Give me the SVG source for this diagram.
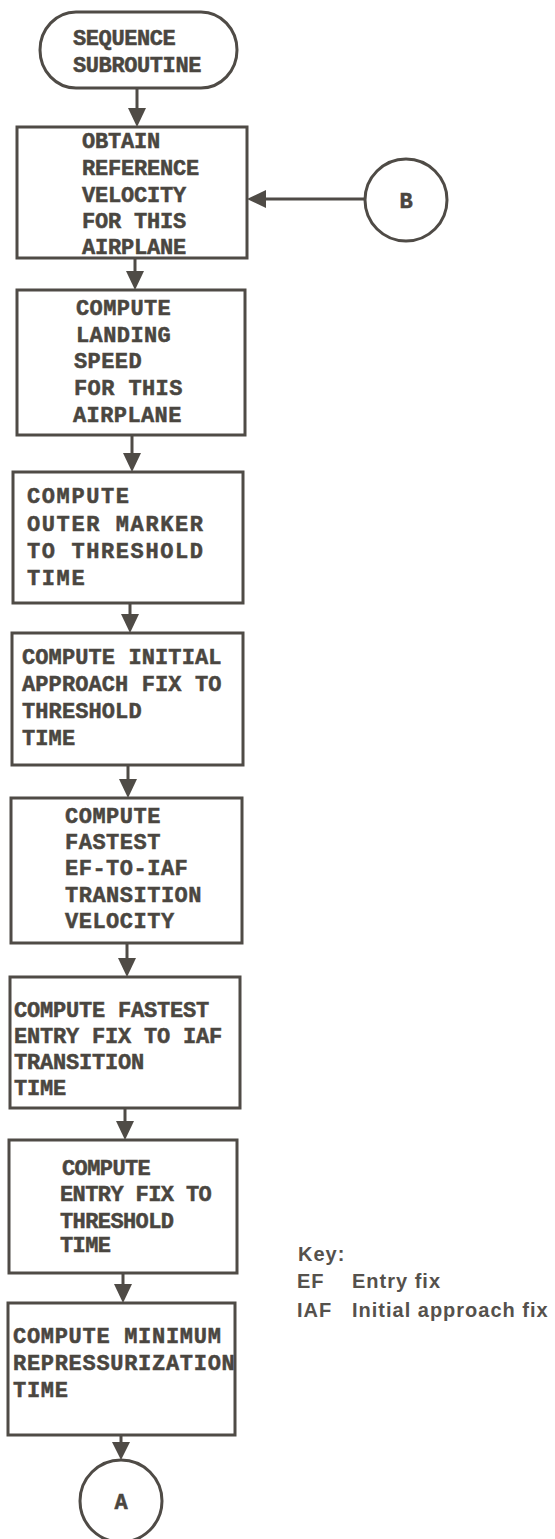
<svg xmlns="http://www.w3.org/2000/svg" width="555" height="1539" viewBox="0 0 555 1539">
<style>
.shape{fill:#fff;stroke:#4f4b46;stroke-width:3}
.t{font-family:"Liberation Mono","DejaVu Sans Mono",monospace;font-weight:bold;font-size:22px;fill:#4a4640;stroke:#4a4640;stroke-width:0.5}
.k{font-family:"Liberation Sans","Arial",sans-serif;font-weight:bold;font-size:20px;fill:#55514c;letter-spacing:1px}
.c{stroke:#4f4b46;stroke-width:3;fill:none}
.ah{fill:#4f4b46}
</style>
<rect width="555" height="1539" fill="#fff"/>
<g id="connectors">
<line class="c" x1="137" y1="88" x2="137" y2="110"/><polygon class="ah" points="128,108 146,108 137,127"/>
<line class="c" x1="135" y1="258" x2="135" y2="273"/><polygon class="ah" points="126,271 144,271 135,290"/>
<line class="c" x1="132" y1="435" x2="132" y2="455"/><polygon class="ah" points="123,453 141,453 132,472"/>
<line class="c" x1="130" y1="603" x2="130" y2="616"/><polygon class="ah" points="121,614 139,614 130,633"/>
<line class="c" x1="128" y1="765" x2="128" y2="781"/><polygon class="ah" points="119,779 137,779 128,798"/>
<line class="c" x1="127" y1="943" x2="127" y2="960"/><polygon class="ah" points="118,958 136,958 127,977"/>
<line class="c" x1="125" y1="1108" x2="125" y2="1123"/><polygon class="ah" points="116,1121 134,1121 125,1140"/>
<line class="c" x1="123" y1="1273" x2="123" y2="1286"/><polygon class="ah" points="114,1284 132,1284 123,1303"/>
<line class="c" x1="121" y1="1435" x2="121" y2="1444"/><polygon class="ah" points="112,1442 130,1442 121,1460"/>
<line class="c" x1="365" y1="199" x2="264" y2="199"/><polygon class="ah" points="266,190 266,208 247,199"/>
</g>
<g id="start">
<rect class="shape" x="40" y="12" width="197" height="76" rx="36" ry="38"/>
<text class="t" x="73" y="45" letter-spacing="-0.4">SEQUENCE</text>
<text class="t" x="73" y="72" letter-spacing="-0.4">SUBROUTINE</text>
</g>
<g id="box1">
<rect class="shape" x="17" y="127" width="230" height="131"/>
<g class="t" letter-spacing="-0.2">
<text x="82" y="148">OBTAIN</text>
<text x="82" y="175">REFERENCE</text>
<text x="82" y="202">VELOCITY</text>
<text x="82" y="228">FOR THIS</text>
<text x="82" y="254">AIRPLANE</text>
</g>
</g>
<g id="box2">
<rect class="shape" x="17" y="290" width="228" height="145"/>
<g class="t" letter-spacing="0.4">
<text x="76" y="315">COMPUTE</text>
<text x="76" y="342">LANDING</text>
<text x="74" y="368">SPEED</text>
<text x="74" y="395">FOR THIS</text>
<text x="73" y="422">AIRPLANE</text>
</g>
</g>
<g id="box3">
<rect class="shape" x="13" y="472" width="230" height="131"/>
<g class="t" letter-spacing="1.6">
<text x="27" y="503">COMPUTE</text>
<text x="27" y="531">OUTER MARKER</text>
<text x="27" y="558">TO THRESHOLD</text>
<text x="27" y="585">TIME</text>
</g>
</g>
<g id="box4">
<rect class="shape" x="12" y="633" width="231" height="132"/>
<g class="t" letter-spacing="0.1">
<text x="22" y="664">COMPUTE INITIAL</text>
<text x="22" y="691">APPROACH FIX TO</text>
<text x="22" y="718">THRESHOLD</text>
<text x="22" y="745">TIME</text>
</g>
</g>
<g id="box5">
<rect class="shape" x="11" y="798" width="231" height="145"/>
<g class="t" letter-spacing="0.5">
<text x="65" y="823">COMPUTE</text>
<text x="65" y="849">FASTEST</text>
<text x="65" y="875">EF-TO-IAF</text>
<text x="65" y="902">TRANSITION</text>
<text x="65" y="928">VELOCITY</text>
</g>
</g>
<g id="box6">
<rect class="shape" x="10" y="977" width="230" height="131"/>
<g class="t" letter-spacing="-0.2">
<text x="14" y="1017">COMPUTE FASTEST</text>
<text x="14" y="1043">ENTRY FIX TO IAF</text>
<text x="14" y="1069">TRANSITION</text>
<text x="14" y="1095">TIME</text>
</g>
</g>
<g id="box7">
<rect class="shape" x="9" y="1140" width="228" height="133"/>
<g class="t" letter-spacing="-0.6">
<text x="62" y="1175">COMPUTE</text>
<text x="60" y="1201">ENTRY FIX TO</text>
<text x="60" y="1228">THRESHOLD</text>
<text x="60" y="1252">TIME</text>
</g>
</g>
<g id="box8">
<rect class="shape" x="8" y="1303" width="227" height="132"/>
<g class="t" letter-spacing="0.7">
<text x="13" y="1343">COMPUTE MINIMUM</text>
<text x="13" y="1370">REPRESSURIZATION</text>
<text x="13" y="1397">TIME</text>
</g>
</g>
<g id="connectorB">
<circle class="shape" cx="406" cy="200" r="41"/>
<text class="t" x="406" y="208" text-anchor="middle" font-size="24">B</text>
</g>
<g id="connectorA">
<circle class="shape" cx="121" cy="1501" r="41"/>
<text class="t" x="121" y="1509" text-anchor="middle" font-size="24">A</text>
</g>
<g id="key">
<text class="k" x="298" y="1261">Key:</text>
<text class="k" x="297" y="1288">EF</text>
<text class="k" x="352" y="1288">Entry fix</text>
<text class="k" x="297" y="1317">IAF</text>
<text class="k" x="352" y="1317">Initial approach fix</text>
</g>
</svg>
